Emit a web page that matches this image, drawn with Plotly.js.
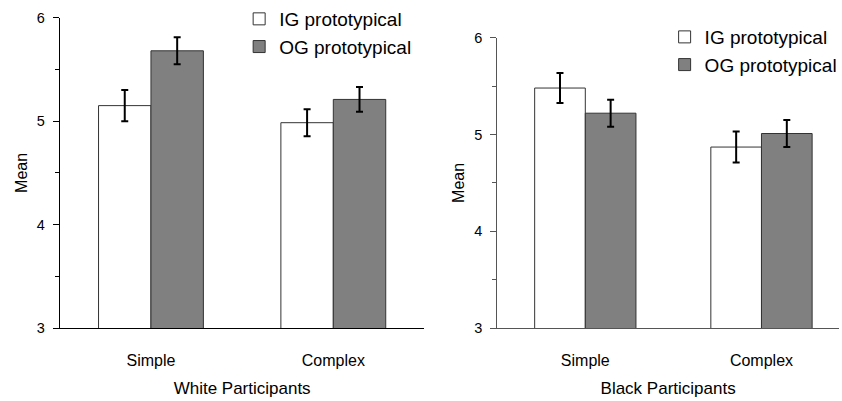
<!DOCTYPE html>
<html>
<head>
<meta charset="utf-8">
<script src="https://cdn.plot.ly/plotly-3.0.1.min.js"></script>
<style>html,body{margin:0;padding:0;background:#fff;}#chart{width:842px;height:401px;}</style>
</head>
<body>
<div id="chart"></div>
<script>
const categories = ['Simple', 'Complex'];
const seriesNames = ['IG prototypical', 'OG prototypical'];
const whiteIG = [5.15, 4.985];
const whiteIGErr = [0.15, 0.13];
const whiteOG = [5.68, 5.21];
const whiteOGErr = [0.13, 0.12];
const blackIG = [5.48, 4.87];
const blackIGErr = [0.155, 0.16];
const blackOG = [5.22, 5.01];
const blackOGErr = [0.14, 0.14];
const yTickVals = [3, 4, 5, 6];
const yTickText = ['3', '4', '5', '6'];
const yMinorVals = [3.5, 4.5, 5.5];
const panelTitles = ['White Participants', 'Black Participants'];

const FONT = 'Liberation Sans, Arial, sans-serif';
const fills = ['#ffffff', '#808080'];

function barTrace(vals, errs, idx, xa, ya, leg) {
  return {
    type: 'bar', x: categories, y: vals, name: seriesNames[idx],
    xaxis: xa, yaxis: ya, legend: leg,
    marker: {color: fills[idx], line: {color: '#333333', width: 1}},
    error_y: {type: 'data', array: errs, visible: true, color: '#000000', thickness: 2, width: 3.5},
    hoverinfo: 'y'
  };
}

const data = [
  barTrace(whiteIG, whiteIGErr, 0, 'x', 'y', 'legend'),
  barTrace(whiteOG, whiteOGErr, 1, 'x', 'y', 'legend'),
  barTrace(blackIG, blackIGErr, 0, 'x2', 'y2', 'legend2'),
  barTrace(blackOG, blackOGErr, 1, 'x2', 'y2', 'legend2')
];

function xAxis(domain, range, title, lc) {
  return {
    domain: domain, range: range, type: 'category',
    showline: true, linecolor: lc, linewidth: 1,
    ticks: '', ticklabelstandoff: 18, showgrid: false, zeroline: false,
    tickfont: {family: FONT, size: 16, color: '#000'},
    title: {text: title, font: {family: FONT, size: 17, color: '#000'}, standoff: 13},
    fixedrange: true
  };
}
function yAxis(domain, anchor, lc) {
  return {
    domain: domain, range: [3, 6], anchor: anchor,
    showline: true, linecolor: lc, linewidth: 1,
    tickvals: yTickVals, ticktext: yTickText, ticks: 'outside', ticklen: 6, tickcolor: lc,
    ticklabelstandoff: 5,
    minor: {tickvals: yMinorVals, ticks: 'outside', ticklen: 4, tickcolor: lc, showgrid: false},
    showgrid: false, zeroline: false,
    tickfont: {family: FONT, size: 14.5, color: '#000'},
    title: {text: 'Mean', font: {family: FONT, size: 16, color: '#000'}, standoff: 5},
    fixedrange: true
  };
}

const layout = {
  width: 842, height: 401,
  margin: {l: 0, r: 0, t: 0, b: 73, pad: 0},
  paper_bgcolor: '#ffffff', plot_bgcolor: '#ffffff',
  barmode: 'group', bargap: 0.425, bargroupgap: 0,
  font: {family: FONT, color: '#000'},
  xaxis: Object.assign(xAxis([60/842, 426/842], [-0.5, 1.5], panelTitles[0], '#000000'), {anchor: 'y'}),
  yaxis: yAxis([0, 0.946], 'x', '#000000'),
  xaxis2: Object.assign(xAxis([499/842, 1], [-0.5, 1.44], panelTitles[1], '#555555'), {anchor: 'y2'}),
  yaxis2: yAxis([0, 0.885], 'x2', '#555555'),
  legend: {x: 240/842, y: 1.0, xanchor: 'left', yanchor: 'top', bgcolor: 'rgba(0,0,0,0)',
           font: {family: FONT, size: 19, color: '#000'}, tracegroupgap: 0},
  legend2: {x: 667/842, y: 0.945, xanchor: 'left', yanchor: 'top', bgcolor: 'rgba(0,0,0,0)',
           font: {family: FONT, size: 19, color: '#000'}, tracegroupgap: 0},
  showlegend: true
};

Plotly.newPlot('chart', data, layout, {staticPlot: true, displayModeBar: false});
</script>
</body>
</html>
